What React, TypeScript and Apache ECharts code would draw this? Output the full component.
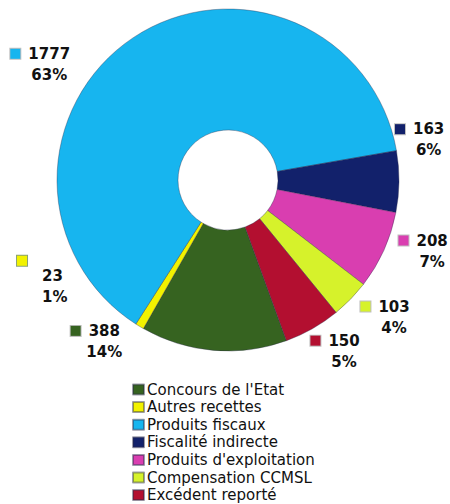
import React, { useEffect, useRef } from "react";
import * as echarts from "echarts";

const categories = [
  "Concours de l'Etat",
  "Autres recettes",
  "Produits fiscaux",
  "Fiscalité indirecte",
  "Produits d'exploitation",
  "Compensation CCMSL",
  "Excédent reporté",
];
const values = [388, 23, 1777, 163, 208, 103, 150];
const colors = ["#366320", "#f2f200", "#17b5ef", "#12216b", "#d93eb0", "#d6f22b", "#b30f30"];
const labelNudges: [number, number][] = [
  [-86, -13],
  [-65, -48],
  [-56, 30],
  [-13, -42],
  [6, -1],
  [2, 15],
  [-9, 19],
];

const FONT = "'DejaVu Sans', Verdana, sans-serif";

export default function App() {
  const ref = useRef<HTMLDivElement>(null);
  useEffect(() => {
    if (!ref.current) return;
    const chart = echarts.init(ref.current, undefined, { renderer: "svg" });
    const rich: Record<string, any> = {
      gap: { width: 8 },
      v: { fontSize: 15, fontWeight: "bold", lineHeight: 21, color: "#111", fontFamily: FONT, align: "center" },
      p: { fontSize: 15, fontWeight: "bold", lineHeight: 21, color: "#111", fontFamily: FONT, align: "center", padding: [0, 0, 0, 18] },
      pl: { fontSize: 15, fontWeight: "bold", lineHeight: 21, color: "#111", fontFamily: FONT, align: "left", padding: [0, 0, 0, 25] },
    };
    colors.forEach((c, i) => {
      rich["i" + i] = {
        width: 10,
        height: 10,
        backgroundColor: c,
        borderColor: "rgba(0,0,0,0.25)",
        borderWidth: 1,
        align: "center",
      };
      rich["il" + i] = {
        width: 10,
        height: 10,
        backgroundColor: c,
        borderColor: "rgba(60,100,20,0.6)",
        borderWidth: 1,
        align: "left",
        lineHeight: 10,
      };
    });
    chart.setOption({
      animation: false,
      color: colors,
      legend: {
        orient: "vertical",
        left: 132,
        top: 382,
        height: 160,
        padding: 0,
        itemWidth: 11,
        itemHeight: 10,
        itemGap: 2.6,
        icon: "rect",
        textStyle: { fontFamily: FONT, fontSize: 15, color: "#111", padding: [0, 0, 0, -2] },
        data: categories,
      },
      series: [
        {
          type: "pie",
          center: [228, 180],
          radius: [50, 171],
          startAngle: -70,
          clockwise: true,
          percentPrecision: 0,
          avoidLabelOverlap: false,
          itemStyle: { borderColor: "rgba(40,40,70,0.45)", borderWidth: 0.8 },
          label: {
            show: true,
            position: "outside",
            formatter: (p: any) =>
              p.dataIndex === 1
                ? `{il${p.dataIndex}|}\n{pl|${p.value}}\n{pl|${p.percent}%}`
                : `{i${p.dataIndex}|}{gap|}{v|${p.value}}\n{p|${p.percent}%}`,
            rich,
          },
          labelLine: { show: false, length: 4, length2: 0 },
          labelLayout: (params: any) => {
            const n = labelNudges[params.dataIndex] || [0, 0];
            return { dx: n[0], dy: n[1] };
          },
          emphasis: { disabled: true },
          data: categories.map((name, i) => ({ name, value: values[i] })),
        },
      ],
    });
    return () => chart.dispose();
  }, []);
  return (
    <div
      ref={ref}
      style={{ position: "fixed", left: 0, top: 0, width: 450, height: 504, background: "#fff" }}
    />
  );
}
